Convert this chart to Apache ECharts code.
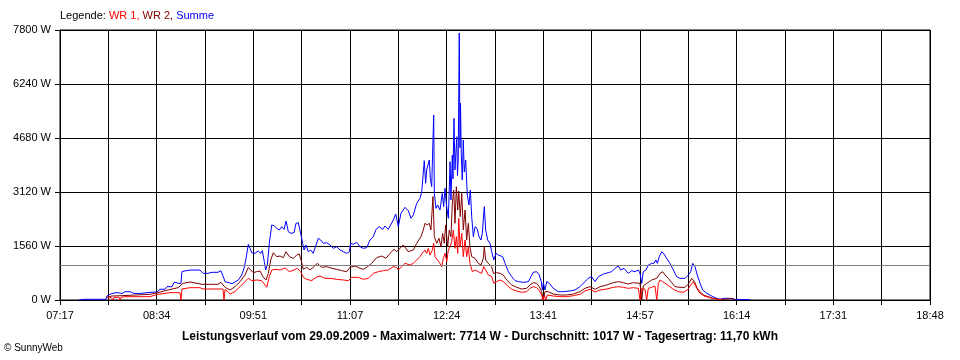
<!DOCTYPE html>
<html>
<head>
<meta charset="utf-8">
<script src="https://cdn.jsdelivr.net/npm/echarts@6/dist/echarts.min.js"></script>
<style>html,body{margin:0;padding:0;background:#fff}#c{width:960px;height:360px}</style>
</head>
<body>
<div id="c"></div>
<script>
// x values: minutes after 07:17
const xLabels = ['07:17','08:34','09:51','11:07','12:24','13:41','14:57','16:14','17:31','18:48'];
const yTicks = [0, 1560, 3120, 4680, 6240, 7800];
const averageW = 1017;

const summeT = [15.1,19.1,36.5,37.3,39.7,43.7,46.1,49.3,51.6,55.6,58.8,63.6,65.1,71.5,77.1,79.5,83.4,85.0,89.0,90.6,92.2,93.8,96.1,96.9,99.3,103.3,111.2,113.6,117.6,120.8,125.5,127.9,129.5,131.1,134.3,136.7,141.7,144.4,146.2,147.8,149.6,151.0,152.3,154.9,157.5,159.5,160.7,162.3,163.4,164.7,166.3,168.2,170.3,172.2,174.2,176.1,178.0,179.6,181.4,183.5,185.9,187.5,189.3,191.2,192.8,193.9,195.4,197.3,199.2,201.2,203.4,205.2,207.1,209.2,211.9,214.5,217.1,219.8,222.5,225.1,227.8,229.9,231.0,233.0,235.7,238.4,241.0,243.7,246.3,248.9,251.1,253.7,256.4,258.2,260.8,262.7,264.8,266.7,268.8,270.9,274.1,276.7,278.9,280.7,283.4,286.0,287.4,289.4,290.5,291.3,292.6,293.4,294.2,295.3,296.9,297.4,298.7,300.1,301.9,303.7,304.8,305.9,306.9,308.5,309.1,309.9,310.6,311.7,312.2,313.0,313.8,315.2,315.8,316.4,317.2,317.8,318.2,318.8,319.6,320.4,321.2,322.3,323.6,324.9,326.0,327.1,328.4,329.7,331.3,332.9,334.5,335.5,337.1,338.2,339.8,341.6,343.0,344.6,346.4,348.2,349.6,351.7,353.6,356.2,358.9,361.5,364.2,368.1,372.1,374.2,376.0,378.7,380.8,382.4,383.2,384.0,385.3,386.7,388.8,391.9,395.9,399.9,405.2,409.2,413.1,417.1,419.7,422.4,425.1,427.7,431.7,435.6,438.3,440.9,443.6,445.5,448.1,451.5,454.2,456.8,459.5,460.8,462.2,463.4,465.6,467.4,470.1,471.9,473.5,474.6,476.1,478.1,479.9,482.0,484.6,487.3,489.9,492.6,496.6,499.2,501.1,502.7,504.5,506.3,508.5,510.6,513.8,517.8,520.4,524.4,527.0,532.3,534.9,548.2];
const summeW = [0,20,20,115,165,210,210,190,240,240,190,190,220,220,230,310,310,385,385,510,510,480,480,820,840,865,865,770,770,800,800,845,700,530,500,470,578,722,915,1203,1608,1492,1367,1348,1415,1348,1425,1107,867,1011,1637,2167,2138,2070,2022,2118,2041,2282,1974,1926,1945,2215,2234,1926,1637,1444,1589,1396,1444,1348,1589,1782,1733,1637,1656,1589,1492,1540,1444,1396,1348,1396,1637,1608,1666,1540,1492,1512,1733,1830,2041,2118,2041,2138,2041,2167,2311,2484,2118,2504,2677,2581,2359,2456,2793,2937,3129,4024,3370,3756,3756,4044,3515,3274,5344,3081,2648,2744,2600,3081,2696,3225,2793,2359,3000,3995,2889,4189,3500,5248,3756,4718,3600,4093,7714,4400,5682,4237,3467,4622,3700,4044,3033,2744,3178,2407,1830,2118,2070,1830,1733,1926,2696,2022,1733,1637,1396,1156,1348,1300,1329,1252,1059,818,674,559,530,510,530,674,800,818,722,530,289,501,289,530,481,337,241,241,260,289,385,530,626,674,530,674,751,790,818,915,982,867,915,770,847,818,867,770,481,818,867,1011,1059,1059,1156,1059,1252,1396,1329,1203,1059,867,674,626,626,722,818,1059,963,722,481,289,193,116,67,19,48,48,19,10];

const wr2T = [37.1,41.3,49.3,59.6,71.5,77.9,85.8,93.8,97.7,103.3,112.8,125.5,127.9,131.1,135.1,139.0,143.0,147.0,149.6,151.5,153.6,156.3,158.9,161.5,163.7,165.5,167.4,169.5,172.2,174.8,177.4,179.6,182.2,185.4,188.1,190.1,191.7,193.3,196.0,198.6,201.2,204.4,207.9,211.9,215.9,219.8,223.8,227.8,230.4,234.4,238.4,241.0,243.7,247.6,251.6,255.6,259.0,262.2,265.4,267.5,268.8,272.7,276.7,280.7,283.4,286.8,288.6,290.0,291.8,293.4,294.7,296.3,297.4,299.3,301.1,302.7,304.0,305.3,306.4,308.0,309.3,310.6,311.7,312.8,313.8,314.9,316.0,316.8,318.0,319.2,320.4,321.8,323.1,324.4,325.7,327.1,329.7,332.3,334.5,336.3,337.1,338.2,340.3,343.0,344.3,346.9,349.6,352.2,354.9,358.9,362.9,366.8,370.8,373.4,376.0,378.7,380.8,382.7,384.0,385.3,387.9,391.9,397.2,402.6,407.9,413.1,417.1,421.1,425.1,429.0,434.4,439.6,443.6,447.6,451.5,455.5,460.8,462.2,463.4,466.1,470.1,474.1,476.7,478.8,480.7,483.3,486.0,488.6,492.6,496.6,499.2,501.9,504.0,506.3,508.5,511.1,515.1,519.1,523.0,527.0,528.3,534.7,536.3];
const wr2W = [77,115,125,144,164,212,289,356,481,520,453,453,510,366,289,385,530,722,943,867,790,818,838,655,578,770,1156,1367,1252,1271,1223,1396,1252,1203,1300,1329,1136,886,943,867,943,1059,943,963,915,886,847,818,943,982,915,886,943,1059,1223,1271,1203,1348,1464,1396,1348,1589,1396,1444,1637,1830,2022,2215,2167,2215,2022,2985,1830,1637,1782,1540,1926,1637,2167,1540,2022,1830,2793,3178,2215,3274,2600,3150,2407,3081,2022,2600,1733,2215,1540,1252,1203,1059,1011,1203,1540,1156,1059,963,770,790,770,722,578,433,366,318,337,433,501,481,385,241,0,241,241,173,144,144,173,241,337,385,308,385,433,501,530,501,462,501,481,0,404,481,578,626,770,818,722,626,501,385,366,366,462,626,530,337,241,144,96,48,19,19,48,48,0];

const wr1T = [38.1,40.5,42.1,42.9,46.9,47.7,48.5,51.6,71.5,73.1,77.9,87.4,95.3,96.1,96.9,103.3,111.2,113.6,129.5,130.3,131.1,133.5,135.1,139.0,143.0,147.0,149.6,152.3,156.3,160.2,162.9,164.2,166.3,168.2,170.8,174.8,178.8,182.2,185.9,188.5,191.2,193.3,196.0,200.0,203.4,206.6,210.5,214.5,219.8,225.1,229.1,231.8,237.0,241.0,244.9,248.9,252.9,256.9,260.8,264.8,267.5,268.8,271.4,274.1,278.1,280.7,283.4,286.0,287.8,290.0,291.3,292.6,294.0,295.8,296.9,298.0,299.8,301.9,303.3,304.5,305.9,307.3,308.5,309.9,311.2,312.5,313.8,314.9,316.0,316.8,317.8,319.2,320.4,321.8,323.1,324.4,325.7,327.6,329.7,332.3,335.0,336.6,338.2,340.3,343.0,344.6,346.9,349.6,352.2,354.9,358.9,362.9,366.8,370.8,373.4,376.0,378.7,380.8,382.7,383.5,384.8,385.9,387.2,391.9,397.2,402.6,407.9,413.1,417.1,421.1,425.1,429.0,434.4,439.6,443.6,447.6,451.5,455.5,459.5,460.8,462.2,464.8,466.1,467.4,470.1,472.7,474.1,475.4,476.7,478.8,482.0,484.6,487.3,491.3,495.3,498.5,501.1,503.2,505.9,508.5,511.7,515.1,519.1,523.0,525.7];
const wr1W = [48,77,0,77,77,0,77,96,96,115,164,212,212,0,318,356,356,318,318,0,300,241,173,241,385,530,626,559,578,559,433,366,674,867,886,867,925,818,867,915,818,655,597,559,655,693,626,626,597,578,559,655,655,597,626,770,818,847,867,963,943,867,963,1059,1011,1059,1156,1252,1348,1444,1348,1492,1300,1444,1637,1252,1156,1059,963,1203,1348,1107,1444,1540,1685,2022,1492,1830,1348,2359,1540,1926,1252,1733,1252,1540,1059,818,867,818,770,963,867,722,674,481,530,578,530,433,308,260,222,241,337,385,356,270,144,0,144,0,144,116,96,96,125,164,260,308,231,289,318,366,385,366,337,356,337,0,337,308,0,337,366,404,0,481,578,530,453,385,308,241,222,289,433,530,337,193,116,77,38,19,0];

const zip = (t, w) => t.map((v, i) => [v, w[i]]);
const STEP = 38.4; // one grid column in minutes
const FONT = 'Liberation Sans, Arial, sans-serif';

const chart = echarts.init(document.getElementById('c'), null, {renderer: 'canvas'});
chart.setOption({
  animation: false,
  backgroundColor: '#fff',
  title: [
    {
      text: '{k|Legende: }{a|WR 1, }{b|WR 2, }{c|Summe}',
      left: 60, top: 10, padding: 0,
      textStyle: {
        fontSize: 11, fontFamily: FONT, fontWeight: 'normal',
        rich: {
          k: {color: '#000', fontSize: 11, fontFamily: FONT},
          a: {color: '#ff0000', fontSize: 11, fontFamily: FONT},
          b: {color: '#800000', fontSize: 11, fontFamily: FONT},
          c: {color: '#0000ff', fontSize: 11, fontFamily: FONT}
        }
      }
    },
    {
      text: 'Leistungsverlauf vom 29.09.2009 - Maximalwert: 7714 W - Durchschnitt: 1017 W - Tagesertrag: 11,70 kWh',
      left: 'center', top: 331, padding: 0,
      textStyle: {fontSize: 12, fontWeight: 'bold', color: '#000', fontFamily: FONT}
    },
    {
      text: '© SunnyWeb',
      left: 4, top: 343, padding: 0,
      textStyle: {fontSize: 10, fontWeight: 'normal', color: '#000', fontFamily: FONT}
    }
  ],
  grid: {left: 60, right: 30, top: 30, bottom: 60, show: true, borderColor: '#000', borderWidth: 1},
  xAxis: {
    type: 'value', min: 0, max: STEP * 18, interval: STEP,
    axisLine: {lineStyle: {color: '#000', width: 1}},
    axisTick: {show: true, length: 5, lineStyle: {color: '#000'}},
    splitLine: {show: true, lineStyle: {color: '#000', width: 1}},
    axisLabel: {
      color: '#000', fontSize: 11, fontFamily: FONT, margin: 10,
      formatter: v => { const k = Math.round(v / STEP); return k % 2 === 0 ? (xLabels[k / 2] || '') : ''; }
    }
  },
  yAxis: {
    type: 'value', min: yTicks[0], max: yTicks[yTicks.length - 1], interval: yTicks[1] - yTicks[0],
    axisLine: {show: true, lineStyle: {color: '#000', width: 1}},
    axisTick: {show: true, length: 5, lineStyle: {color: '#000'}},
    splitLine: {show: true, lineStyle: {color: '#000', width: 1}},
    axisLabel: {color: '#000', fontSize: 11, fontFamily: FONT, margin: 9, formatter: v => Math.round(v) + ' W'}
  },
  series: [
    {
      name: 'Summe', type: 'line', data: zip(summeT, summeW), showSymbol: false,
      lineStyle: {color: '#0000ff', width: 1}, itemStyle: {color: '#0000ff'},
      markLine: {
        silent: true, symbol: 'none', label: {show: false},
        lineStyle: {color: '#808080', width: 1, type: 'solid'},
        data: [{yAxis: averageW}]
      }
    },
    {name: 'WR 2', type: 'line', data: zip(wr2T, wr2W), showSymbol: false,
     lineStyle: {color: '#800000', width: 1}, itemStyle: {color: '#800000'}},
    {name: 'WR 1', type: 'line', data: zip(wr1T, wr1W), showSymbol: false,
     lineStyle: {color: '#ff0000', width: 1}, itemStyle: {color: '#ff0000'}}
  ]
});
</script>
</body>
</html>
